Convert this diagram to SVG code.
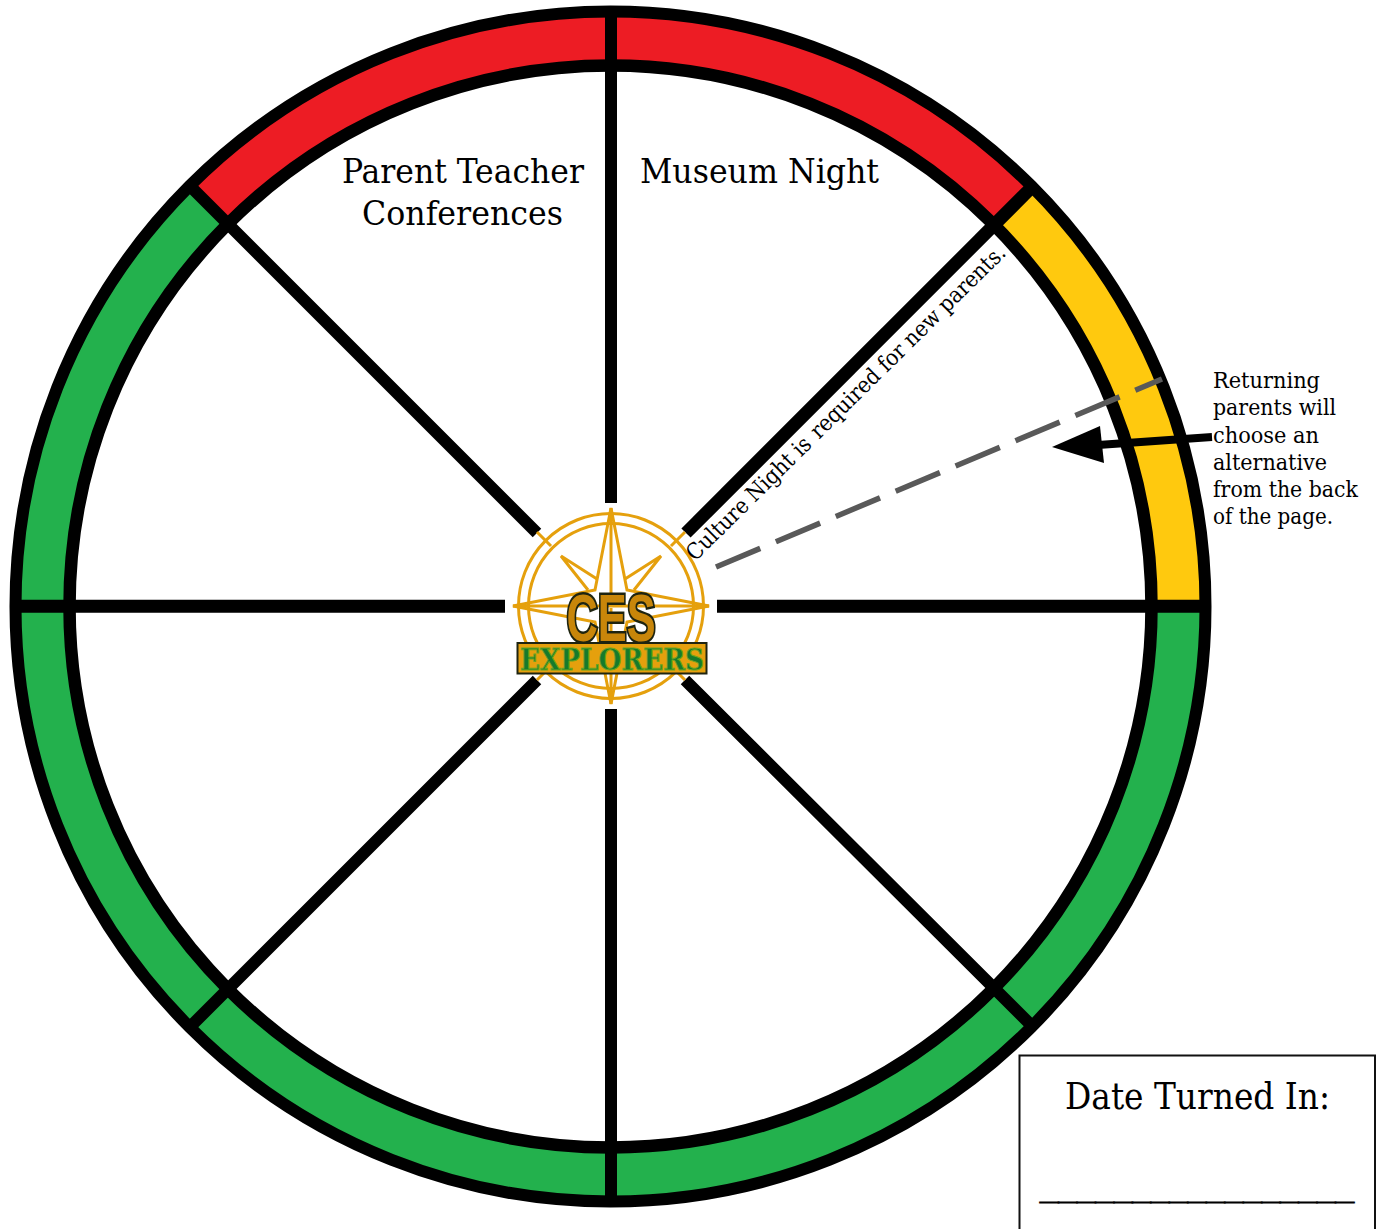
<svg xmlns="http://www.w3.org/2000/svg" width="1376" height="1229" viewBox="0 0 1376 1229">
<style>
.t{font-family:"DejaVu Serif Condensed","DejaVu Serif","Liberation Serif",serif;fill:#000}
.big{font-size:34px}
.note{font-size:23px}
.sp{stroke:#000;stroke-width:12;fill:none}
.ring{fill:none;stroke:#000}
.band{fill:none;stroke-width:44}
.lg{fill:none;stroke:#E5A00D;stroke-width:3}
</style>
<rect width="1376" height="1229" fill="#fff"/>
<g id="wheel">
<circle cx="610.5" cy="606.5" r="568" class="band" stroke="#23B14D"/>
<path d="M208.9 204.9A568 568 0 0 1 1012.1 204.9" class="band" stroke="#ED1C24"/>
<path d="M1012.1 204.9A568 568 0 0 1 1178.5 606.5" class="band" stroke="#FFC90E"/>
<circle cx="610.5" cy="606.5" r="595" class="ring" stroke-width="12"/>
<circle cx="610.5" cy="606.5" r="541" class="ring" stroke-width="12.500"/>
</g>
<g id="connectors">
<path class="sp" d="M611 14V503M611 709V1200"/>
<path class="sp" style="stroke-width:13" d="M15 606.300H505M717 606.300H1206"/>
<path class="sp" d="M537 533L193 189M537 680L193 1024M685 680L1030 1024"/>
<path class="sp" style="stroke-width:13" d="M686 533L1030 189"/>
<path d="M716 567L1162 379" fill="none" stroke="#595959" stroke-width="5.500" stroke-dasharray="48 17"/>
<path d="M1212 437L1098 445" fill="none" stroke="#000" stroke-width="8"/>
<path d="M1052 447L1100 426L1104 463Z" fill="#000"/>
</g>
<g id="logo">
<circle cx="611" cy="606" r="92.500" class="lg"/>
<circle cx="611" cy="606" r="82.500" class="lg"/>
<path class="lg" d="M611 508L627 590L709 606L627 622L611 704L595 622L513 606L595 590Z"/>
<path class="lg" d="M611 508V604M513 606H709M611 608V704"/>
<path class="lg" d="M597 579L561 556L588 590M625 579L661 556L634 590"/>
<path class="lg" d="M537 532L551 546M685 532L671 546M537 680L551 666M685 680L671 666"/>
<text x="566.500" y="640.500" font-family="'Liberation Sans',sans-serif" font-weight="700" font-size="67" textLength="89" lengthAdjust="spacingAndGlyphs" fill="#C8860A" stroke="#1E2410" stroke-width="5" paint-order="stroke">CES</text>
<rect x="517.500" y="643" width="189" height="30.500" fill="#E5A00D" stroke="#1E2410" stroke-width="2"/>
<text x="520" y="669.500" font-family="'DejaVu Serif',serif" font-weight="700" font-size="30" textLength="184" lengthAdjust="spacingAndGlyphs" fill="#167A2C" stroke="#6FA51E" stroke-width="1">EXPLORERS</text>
</g>
<g id="label-parent-teacher">
<text class="t big" x="342" y="183" textLength="242" lengthAdjust="spacingAndGlyphs">Parent Teacher</text>
<text class="t big" x="362" y="225" textLength="201" lengthAdjust="spacingAndGlyphs">Conferences</text>
</g>
<g id="label-museum-night">
<text class="t big" x="640" y="183" textLength="239" lengthAdjust="spacingAndGlyphs">Museum Night</text>
</g>
<g id="label-culture-night">
<text class="t" font-size="22.500" transform="translate(695 562) rotate(-44.600)"><tspan x="0">Culture</tspan> <tspan x="84">Night is</tspan> <tspan x="174">required for new parents.</tspan></text>
</g>
<g id="label-returning">
<text class="t note" x="1213" y="388" textLength="107" lengthAdjust="spacingAndGlyphs">Returning</text>
<text class="t note" x="1213" y="415" textLength="123" lengthAdjust="spacingAndGlyphs">parents will</text>
<text class="t note" x="1213" y="443" textLength="106" lengthAdjust="spacingAndGlyphs">choose an</text>
<text class="t note" x="1213" y="470" textLength="114" lengthAdjust="spacingAndGlyphs">alternative</text>
<text class="t note" x="1213" y="497" textLength="145" lengthAdjust="spacingAndGlyphs">from the back</text>
<text class="t note" x="1213" y="524" textLength="120" lengthAdjust="spacingAndGlyphs">of the page.</text>
</g>
<g id="date-box">
<rect x="1019.500" y="1055.500" width="355.500" height="180" fill="#fff" stroke="#111" stroke-width="2"/>
<text class="t" font-size="37" x="1065" y="1109" textLength="265" lengthAdjust="spacingAndGlyphs">Date Turned In:</text>
<text class="t" font-size="22" x="1040" y="1198" textLength="314" lengthAdjust="spacingAndGlyphs" stroke="#000" stroke-width="1">_________________</text>
</g>
</svg>
